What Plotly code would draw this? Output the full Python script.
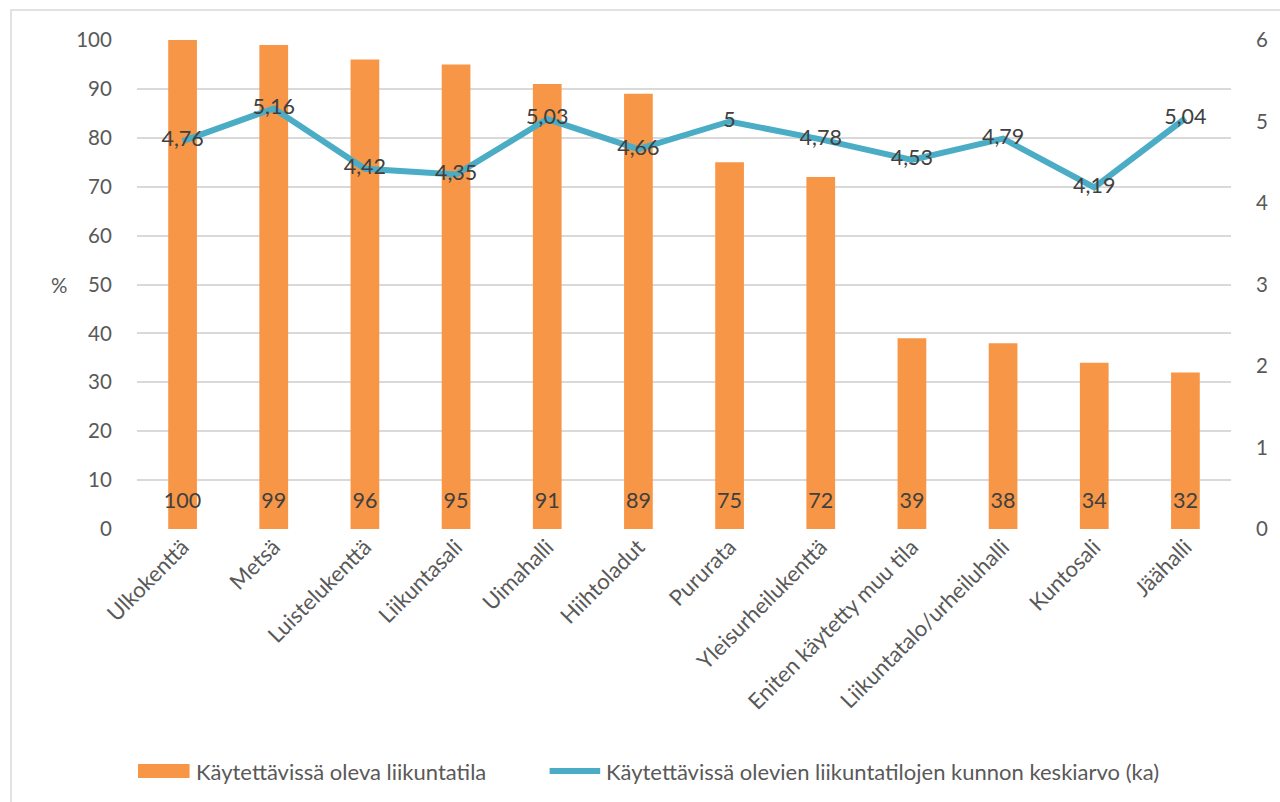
import plotly.graph_objects as go

categories = ["Ulkokenttä", "Metsä", "Luistelukenttä", "Liikuntasali", "Uimahalli",
              "Hiihtoladut", "Pururata", "Yleisurheilukenttä", "Eniten käytetty muu tila",
              "Liikuntatalo/urheiluhalli", "Kuntosali", "Jäähalli"]
available_pct = [100, 99, 96, 95, 91, 89, 75, 72, 39, 38, 34, 32]
condition_avg = [4.76, 5.16, 4.42, 4.35, 5.03, 4.66, 5.0, 4.78, 4.53, 4.79, 4.19, 5.04]

bar_name = "Käytettävissä oleva liikuntatila"
line_name = "Käytettävissä olevien liikuntatilojen kunnon keskiarvo (ka)"

ORANGE = "#f79646"
BLUE = "#4bacc6"
GRID = "#d9d9d9"
TICK = "#595959"
LABEL = "#404040"
FONT = "Lato, Open Sans, sans-serif"

W, H = 1280, 802
L, R, T, B = 137, 40, 40, 273
PW, PH = W - L - R, H - T - B


def px(x):
    return (x - L) / PW


def py(y):
    return (H - B - y) / PH


def fmt(v):
    return f"{v:g}".replace(".", ",")


fig = go.Figure()

fig.add_trace(go.Bar(
    x=categories, y=available_pct, name=bar_name,
    marker=dict(color=ORANGE, line=dict(width=0)),
    width=0.315, showlegend=False, hoverinfo="y",
))

# value labels near the base of each bar
fig.add_trace(go.Scatter(
    x=categories, y=[5.3] * len(categories), mode="text",
    text=[fmt(v) for v in available_pct], textposition="middle center",
    textfont=dict(family=FONT, size=21.5, color=LABEL),
    showlegend=False, hoverinfo="skip",
))

fig.add_trace(go.Scatter(
    x=categories, y=condition_avg, name=line_name, yaxis="y2",
    mode="lines+text", line=dict(color=BLUE, width=6),
    text=[fmt(v) for v in condition_avg], textposition="middle center",
    textfont=dict(family=FONT, size=21.5, color=LABEL),
    showlegend=False,
))

fig.update_layout(
    width=W, height=H,
    margin=dict(l=L, r=R, t=T, b=B),
    paper_bgcolor="white", plot_bgcolor="white",
    font=dict(family=FONT, size=20, color=TICK),
    xaxis=dict(
        tickangle=-45, showgrid=False, zeroline=False, showline=False,
        tickfont=dict(family=FONT, size=22, color=TICK),
        ticks="", range=[-0.5, 11.5],
    ),
    yaxis=dict(
        range=[0, 100], dtick=10, showgrid=True, gridcolor=GRID, gridwidth=1.5,
        zeroline=False, showline=False,
        ticks="outside", ticklen=20, tickcolor="rgba(0,0,0,0)",
        tickfont=dict(family=FONT, size=20.5, color=TICK),
    ),
    yaxis2=dict(
        range=[0, 6], dtick=1, overlaying="y", side="right", showgrid=False,
        zeroline=False, showline=False,
        ticks="outside", ticklen=20, tickcolor="rgba(0,0,0,0)",
        tickfont=dict(family=FONT, size=20.5, color=TICK),
    ),
    showlegend=False,
)

shapes = [
    # outer chart frame
    dict(type="rect", xref="paper", yref="paper",
         x0=px(10), x1=px(1300), y0=py(820), y1=py(10),
         line=dict(color=GRID, width=1.5), fillcolor="rgba(0,0,0,0)", layer="below"),
    # legend keys
    dict(type="rect", xref="paper", yref="paper",
         x0=px(138), x1=px(190), y0=py(778), y1=py(764),
         line=dict(width=0), fillcolor=ORANGE),
    dict(type="line", xref="paper", yref="paper",
         x0=px(553), x1=px(604), y0=py(771), y1=py(771),
         line=dict(color=BLUE, width=6)),
]
fig.update_layout(shapes=shapes)

annotations = [
    dict(text="%", xref="paper", yref="paper", x=px(58), y=py(285),
         showarrow=False, xanchor="center", yanchor="middle",
         font=dict(family=FONT, size=20.5, color=TICK)),
    dict(text=bar_name, xref="paper", yref="paper", x=px(194), y=py(771),
         showarrow=False, xanchor="left", yanchor="middle",
         font=dict(family=FONT, size=22, color=TICK)),
    dict(text=line_name, xref="paper", yref="paper", x=px(608), y=py(771),
         showarrow=False, xanchor="left", yanchor="middle",
         font=dict(family=FONT, size=22, color=TICK)),
]
fig.update_layout(annotations=annotations)

fig.write_html("out.html")
